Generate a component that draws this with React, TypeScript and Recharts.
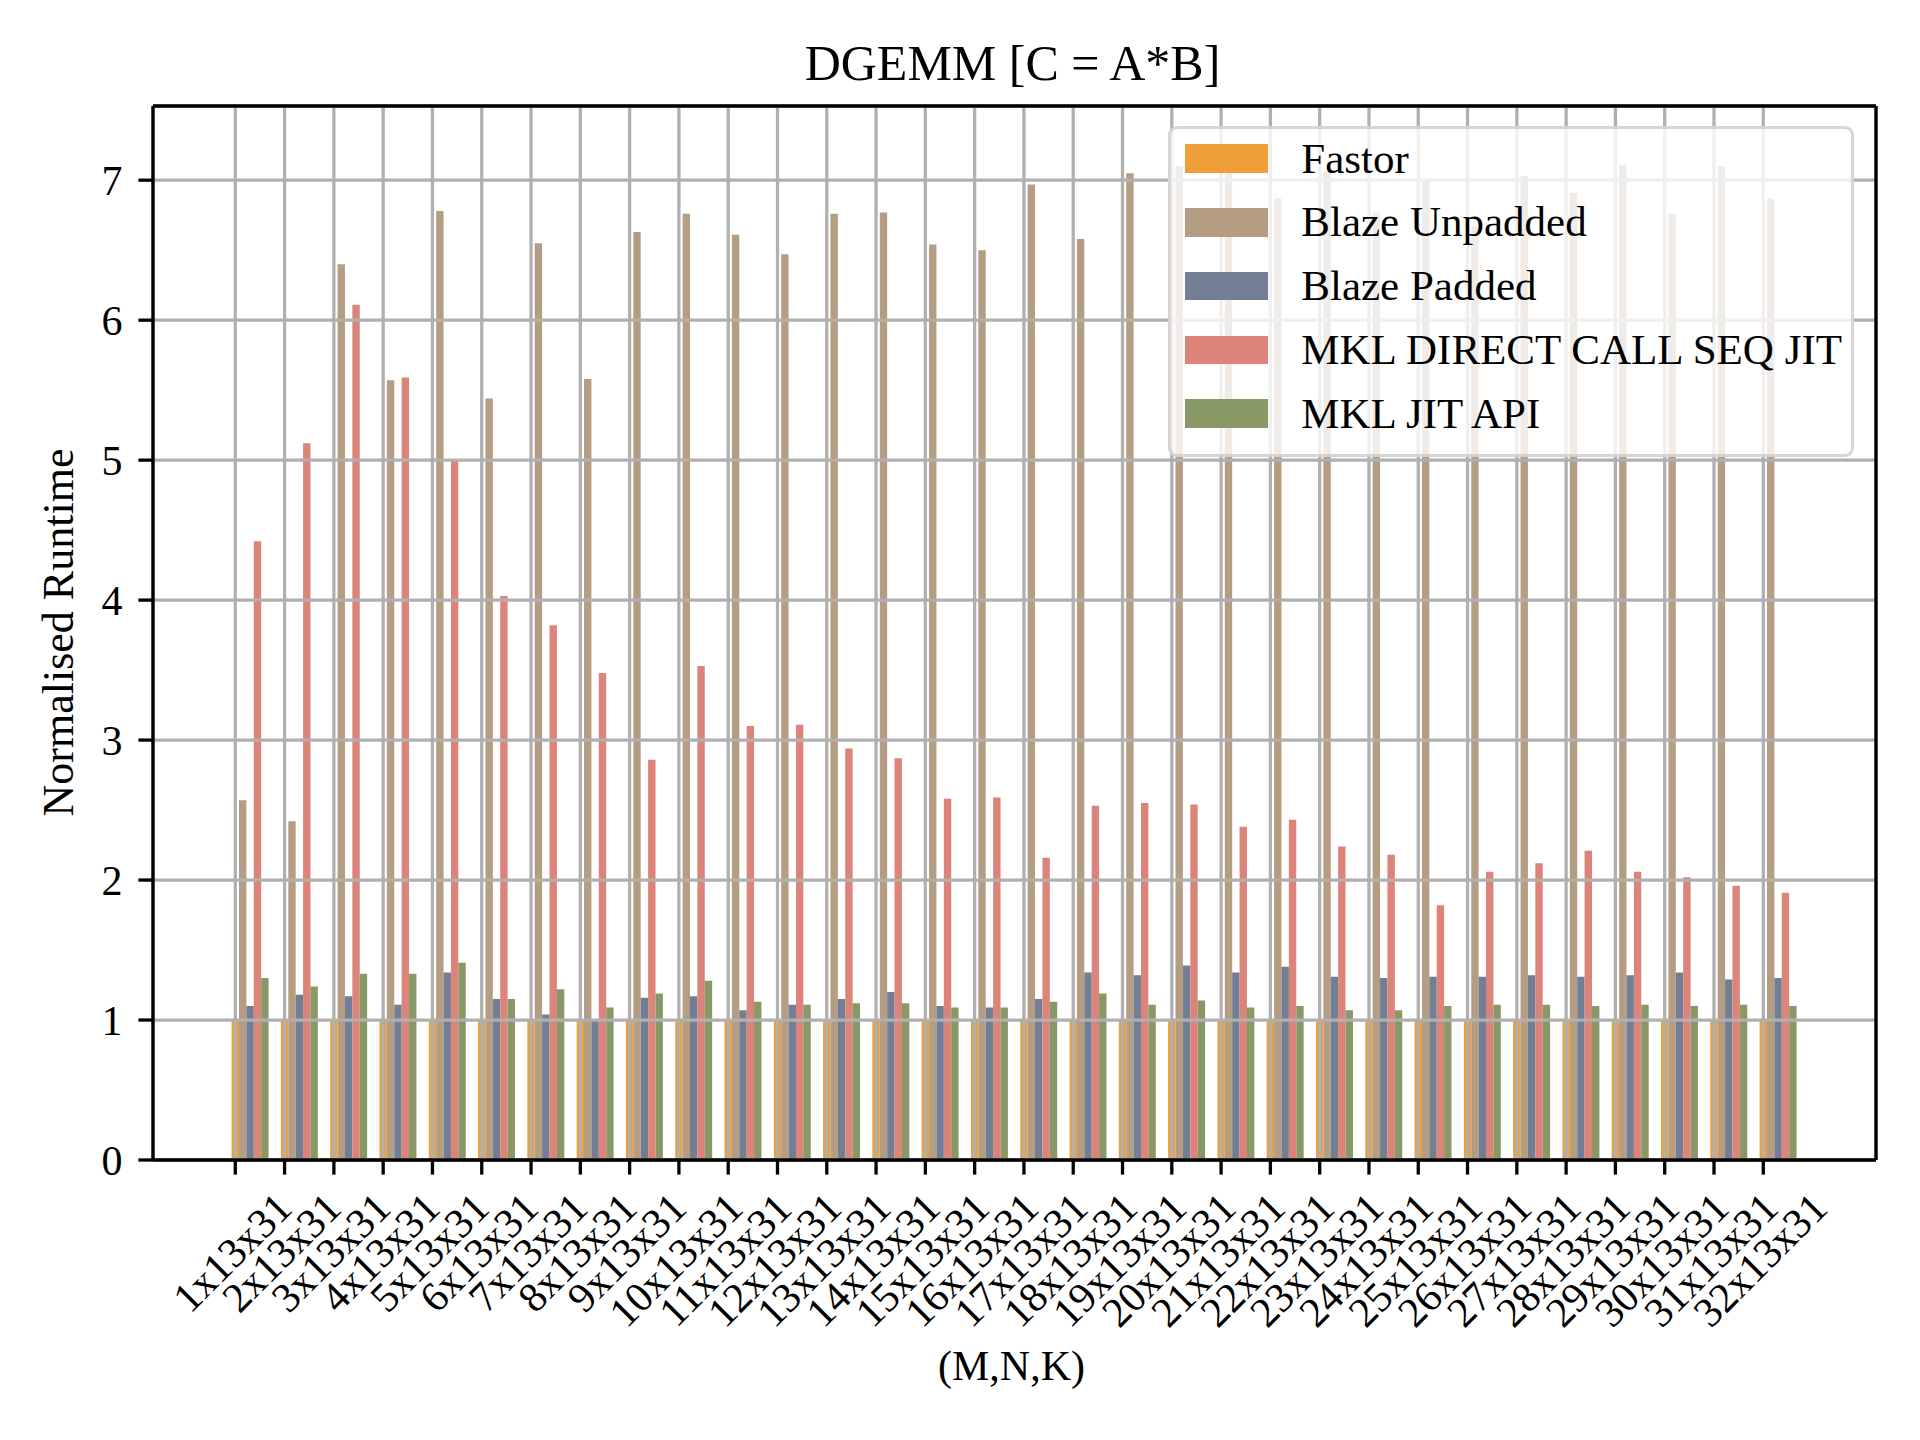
import React from 'react';
import { BarChart, Bar, XAxis, YAxis, CartesianGrid, Legend } from 'recharts';

const categories = [
  '1x13x31', '2x13x31', '3x13x31', '4x13x31', '5x13x31', '6x13x31', '7x13x31', '8x13x31',
  '9x13x31', '10x13x31', '11x13x31', '12x13x31', '13x13x31', '14x13x31', '15x13x31', '16x13x31',
  '17x13x31', '18x13x31', '19x13x31', '20x13x31', '21x13x31', '22x13x31', '23x13x31', '24x13x31',
  '25x13x31', '26x13x31', '27x13x31', '28x13x31', '29x13x31', '30x13x31', '31x13x31', '32x13x31',
];

const fastor = [
  1, 1, 1, 1, 1, 1, 1, 1, 1, 1, 1, 1, 1, 1, 1, 1,
  1, 1, 1, 1, 1, 1, 1, 1, 1, 1, 1, 1, 1, 1, 1, 1,
];

const blazeUnpadded = [
  2.57, 2.42, 6.40, 5.57, 6.78, 5.44, 6.55, 5.58, 6.63, 6.76, 6.61, 6.47, 6.76, 6.77, 6.54, 6.50,
  6.97, 6.58, 7.05, 7.10, 7.17, 6.87, 7.06, 6.77, 7.00, 6.67, 7.03, 6.91, 7.11, 6.76, 7.10, 6.87,
];

const blazePadded = [
  1.10, 1.18, 1.17, 1.11, 1.34, 1.15, 1.04, 1.00, 1.16, 1.17, 1.07, 1.11, 1.15, 1.20, 1.10, 1.09,
  1.15, 1.34, 1.32, 1.39, 1.34, 1.38, 1.31, 1.30, 1.31, 1.31, 1.32, 1.31, 1.32, 1.34, 1.29, 1.30,
];

const mklDirect = [
  4.42, 5.12, 6.11, 5.59, 5.00, 4.03, 3.82, 3.48, 2.86, 3.53, 3.10, 3.11, 2.94, 2.87, 2.58, 2.59,
  2.16, 2.53, 2.55, 2.54, 2.38, 2.43, 2.24, 2.18, 1.82, 2.06, 2.12, 2.21, 2.06, 2.02, 1.96, 1.91,
];

const mklJit = [
  1.30, 1.24, 1.33, 1.33, 1.41, 1.15, 1.22, 1.09, 1.19, 1.28, 1.13, 1.11, 1.12, 1.12, 1.09, 1.09,
  1.13, 1.19, 1.11, 1.14, 1.09, 1.10, 1.07, 1.07, 1.10, 1.11, 1.11, 1.10, 1.11, 1.10, 1.11, 1.10,
];

const yTicks = [0, 1, 2, 3, 4, 5, 6, 7];

const seriesKeys = ['fastor', 'blazeUnpadded', 'blazePadded', 'mklDirect', 'mklJit'];
const seriesNames = ['Fastor', 'Blaze Unpadded', 'Blaze Padded', 'MKL DIRECT CALL SEQ JIT', 'MKL JIT API'];
const seriesColors = ['#EF9F37', '#B59D84', '#717E93', '#DC837A', '#889866'];

const data = categories.map((name, i) => ({
  name,
  fastor: fastor[i],
  blazeUnpadded: blazeUnpadded[i],
  blazePadded: blazePadded[i],
  mklDirect: mklDirect[i],
  mklJit: mklJit[i],
}));

const WIDTH = 1920;
const HEIGHT = 1440;
const PLOT_LEFT = 153;
const PLOT_RIGHT = 1876;
const PLOT_TOP = 106;
const PLOT_BOTTOM = 1160;
const Y_AXIS_W = 120;
const X_AXIS_H = 200;
const BAND = 49.29;
const BAR = BAND * 0.15;
const PLOT_W = PLOT_RIGHT - PLOT_LEFT;
const TOTAL_PAD = PLOT_W - categories.length * BAND;
const BAR_PAD_L = 72.6;
const BAR_PAD_R = TOTAL_PAD - BAR_PAD_L;
const GROUP_OFFSET = Math.floor((BAND - 5 * BAR) / 2);
const SHIFT = BAND / 2 - (GROUP_OFFSET + BAR / 2);
const TICK_PAD_L = BAR_PAD_L - SHIFT;
const TICK_PAD_R = BAR_PAD_R + SHIFT;

const FONT = "'Liberation Serif', 'DejaVu Serif', serif";
const LW = 3.3;
const GRID = '#b0b0b0';

const XTick = (props: any) => {
  const { x, payload } = props;
  const label = String(payload.value);
  const fs = 42;
  const w = label.length * 0.5 * fs;
  const h = fs;
  const yTop = PLOT_BOTTOM + 25.7;
  const cy = yTop + (w + h) / (2 * Math.SQRT2);
  const cx = x - 3;
  return (
    <text
      x={cx}
      y={cy}
      textAnchor="middle"
      dominantBaseline="central"
      transform={`rotate(-45, ${cx}, ${cy})`}
      fontSize={fs}
      fontFamily={FONT}
      fill="#000"
    >
      {label}
    </text>
  );
};

const LEG_LEFT = 1168;
const LEG_TOP = 126;
const LEG_W = 686;
const LEG_H = 331;
const ROW = 63.7;

const LegendBox = () => (
  <div
    style={{
      position: 'relative',
      boxSizing: 'border-box',
      width: LEG_W,
      height: LEG_H,
      background: 'rgba(255,255,255,0.8)',
      border: `${LW}px solid rgba(204,204,204,0.8)`,
      borderRadius: 9,
      fontFamily: FONT,
    }}
  >
    {seriesNames.map((n, i) => (
      <React.Fragment key={n}>
        <div
          style={{
            position: 'absolute',
            left: 17 - LW,
            top: 33 - 14.25 - LW + ROW * i,
            width: 83,
            height: 28.5,
            background: seriesColors[i],
          }}
        />
        <div
          style={{
            position: 'absolute',
            left: 133.6 - LW,
            top: 47 - 36 - LW + ROW * i,
            fontSize: 43,
            lineHeight: '43px',
            whiteSpace: 'nowrap',
            color: '#000',
          }}
        >
          {n}
        </div>
      </React.Fragment>
    ))}
  </div>
);

export default function App() {
  return (
    <div style={{ position: 'absolute', left: 0, top: 0, width: WIDTH, height: HEIGHT, background: '#fff' }}>
      <BarChart
        width={WIDTH}
        height={HEIGHT}
        data={data}
        barGap={0}
        margin={{
          top: PLOT_TOP - 1,
          right: WIDTH - PLOT_RIGHT - 1,
          left: PLOT_LEFT - Y_AXIS_W,
          bottom: HEIGHT - PLOT_BOTTOM - X_AXIS_H,
        }}
      >
        <XAxis xAxisId="bars" dataKey="name" hide height={0} padding={{ left: BAR_PAD_L, right: BAR_PAD_R }} />
        <XAxis
          xAxisId="ticks"
          dataKey="name"
          padding={{ left: TICK_PAD_L, right: TICK_PAD_R }}
          interval={0}
          height={X_AXIS_H}
          tickSize={14.6}
          tick={<XTick />}
          tickLine={{ stroke: '#000', strokeWidth: LW }}
          axisLine={{ stroke: '#000', strokeWidth: LW }}
        />
        <XAxis
          xAxisId="top"
          orientation="top"
          dataKey="name"
          height={1}
          tick={false}
          tickLine={false}
          axisLine={{ stroke: '#000', strokeWidth: LW }}
        />
        <YAxis
          domain={[0, 7.53]}
          ticks={yTicks}
          interval={0}
          allowDataOverflow
          width={Y_AXIS_W}
          tickSize={14.6}
          tickMargin={16}
          tick={{ fontSize: 42, fill: '#000', fontFamily: FONT }}
          tickLine={{ stroke: '#000', strokeWidth: LW }}
          axisLine={{ stroke: '#000', strokeWidth: LW }}
        />
        <YAxis
          yAxisId="right"
          orientation="right"
          domain={[0, 1]}
          width={1}
          tick={false}
          tickLine={false}
          axisLine={{ stroke: '#000', strokeWidth: LW }}
        />
        {seriesKeys.map((k, i) => (
          <Bar
            key={k}
            xAxisId="bars"
            dataKey={k}
            name={seriesNames[i]}
            fill={seriesColors[i]}
            barSize={BAR}
            isAnimationActive={false}
          />
        ))}
        <CartesianGrid xAxisId="ticks" stroke={GRID} strokeWidth={LW} zIndex={350} />
        <Legend
          verticalAlign="middle"
          align="center"
          layout="horizontal"
          wrapperStyle={{ left: LEG_LEFT, top: LEG_TOP, width: LEG_W, height: LEG_H }}
          content={() => <LegendBox />}
        />
        <text x={(PLOT_LEFT + PLOT_RIGHT) / 2 - 2} y={80} textAnchor="middle" fontSize={50} fontFamily={FONT} fill="#000">
          DGEMM [C = A*B]
        </text>
        <text
          x={72.7}
          y={632.5}
          textAnchor="middle"
          transform="rotate(-90, 72.7, 632.5)"
          fontSize={44}
          fontFamily={FONT}
          fill="#000"
        >
          Normalised Runtime
        </text>
        <text x={1011.5} y={1380} textAnchor="middle" fontSize={42} fontFamily={FONT} fill="#000">
          (M,N,K)
        </text>
      </BarChart>
    </div>
  );
}
